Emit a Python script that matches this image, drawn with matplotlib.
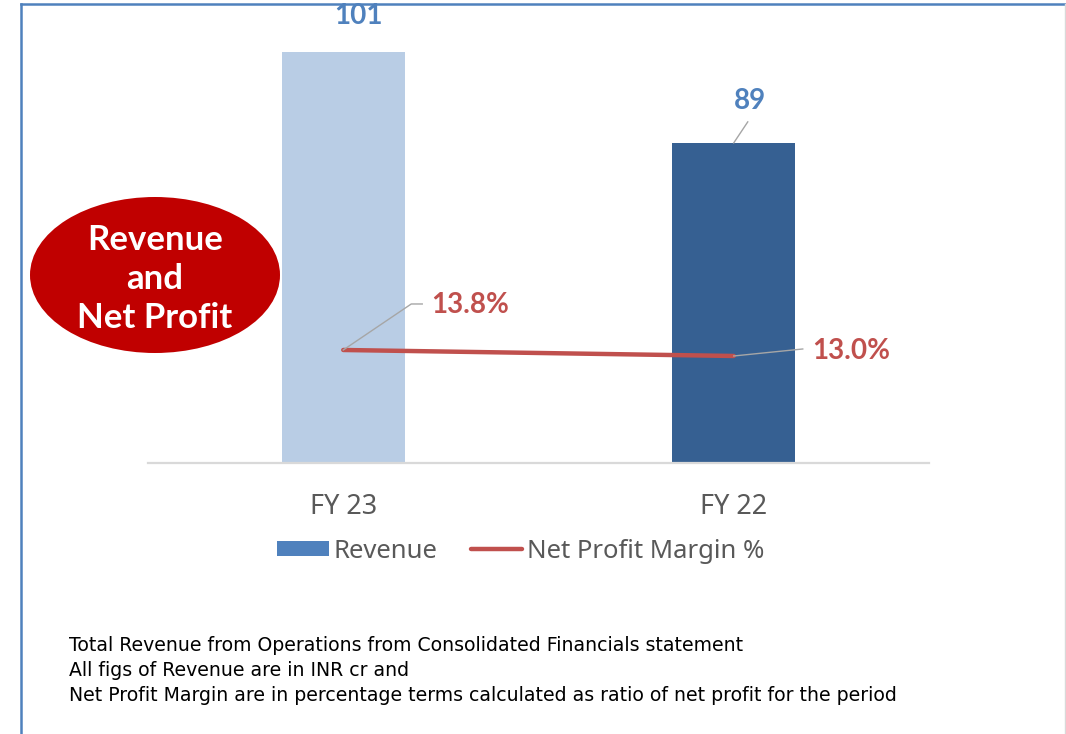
import matplotlib
matplotlib.use("Agg")
import matplotlib.pyplot as plt
from matplotlib.patches import Ellipse, Patch
from matplotlib.lines import Line2D
from matplotlib.transforms import ScaledTranslation

# data
years = ["FY 23", "FY 22"]
revenue = [101, 89]
margin = [13.8, 13.0]
margin_labels = ["13.8%", "13.0%"]
footnotes = [
    "Total Revenue from Operations from Consolidated Financials statement",
    "All figs of Revenue are in INR cr and",
    "Net Profit Margin are in percentage terms calculated as ratio of net profit for the period",
]

barColors = ["#B9CDE5", "#366092"]
legendBlue = "#4F81BD"
lineRed = "#C0504D"
labelGrey = "#595959"
leaderGrey = "#A6A6A6"
boldFont = ["Lato"]

plt.rcParams["font.family"] = ["Noto Sans", "DejaVu Sans"]

W, H = 1066, 734
fig = plt.figure(figsize=(W / 100, H / 100), dpi=100)


def fx(px):
    return px / W


def fy(py):
    return 1 - py / H


ax = fig.add_axes([fx(148), fy(463), fx(929) - fx(148), fy(20) - fy(463)])
ax2 = ax.twinx()

x = list(range(len(years)))
ax.bar(x, revenue, width=0.315, color=barColors, zorder=2)
ax.set_xlim(-0.5, 1.5)
ax.set_ylim(46.8, 105.2)
ax2.set_ylim(-1.27, 57.8)

ax2.plot(x, margin, color=lineRed, linewidth=3.2, solid_capstyle="round", zorder=3)

for a in (ax, ax2):
    for s in a.spines.values():
        s.set_visible(False)
    a.set_yticks([])
ax.spines["bottom"].set_visible(True)
ax.spines["bottom"].set_color("#D9D9D9")
ax.spines["bottom"].set_linewidth(1.6)
ax.set_xticks(x)
ax.set_xticklabels(years, fontsize=19.5, color=labelGrey)
ax.tick_params(axis="x", length=0, pad=21.5)
ax2.tick_params(axis="x", length=0)


def leader(axis, xd, yd, xs, ys):
    # polyline given in pixels relative to a data point
    tr = fig.dpi_scale_trans + ScaledTranslation(xd, yd, axis.transData)
    axis.add_line(Line2D([v / 100 for v in xs], [v / 100 for v in ys],
                         transform=tr, color=leaderGrey, linewidth=1.0,
                         zorder=4, clip_on=False))


def label(axis, xd, yd, dx, dy, text, color):
    tr = fig.dpi_scale_trans + ScaledTranslation(xd, yd, axis.transData)
    axis.text(dx / 100, dy / 100, text, transform=tr, ha="center", va="center",
              fontsize=20, fontweight="bold", family=boldFont, color=color,
              zorder=5, clip_on=False)


# revenue labels
label(ax, 0, revenue[0], 15, 36, "101", legendBlue)
leader(ax, 1, revenue[1], [0, 14], [0, 21])
label(ax, 1, revenue[1], 16, 42, "89", legendBlue)

# margin labels
leader(ax2, 0, margin[0], [0, 68, 79], [0, 46, 46])
label(ax2, 0, margin[0], 127, 45, margin_labels[0], lineRed)
leader(ax2, 1, margin[1], [0, 69], [0, 7])
label(ax2, 1, margin[1], 117, 5, margin_labels[1], lineRed)

# legend
handles = [Patch(facecolor=legendBlue, edgecolor="none"),
           Line2D([], [], color=lineRed, linewidth=3.2, solid_capstyle="round")]
fig.legend(handles, ["Revenue", "Net Profit Margin %"],
           loc="center", bbox_to_anchor=(fx(521), fy(551)), ncol=2,
           frameon=False, fontsize=18.5, labelcolor=labelGrey,
           handlelength=2.0, handleheight=0.55, handletextpad=0.2,
           columnspacing=1.3, borderpad=0)

# red badge
fig.patches.append(Ellipse((fx(155), fy(275)), fx(250), 156 / H,
                           transform=fig.transFigure, facecolor="#C00000",
                           edgecolor="none", zorder=6))
fig.text(fx(155), fy(279), "Revenue\nand\nNet Profit", ha="center", va="center",
         multialignment="center", color="white", fontsize=25, fontweight="bold",
         family=boldFont, linespacing=1.25, zorder=7)

# footnotes
for i, line in enumerate(footnotes):
    fig.text(fx(69), fy(651 + 25 * i), line, ha="left", va="baseline",
             fontsize=13.6, family="DejaVu Sans", color="black")

# frame lines
fig.add_artist(Line2D([fx(21), fx(21)], [fy(4), 0], transform=fig.transFigure,
                      color=legendBlue, linewidth=1.8))
fig.add_artist(Line2D([fx(21), 1], [fy(4), fy(4)], transform=fig.transFigure,
                      color=legendBlue, linewidth=1.8))
fig.add_artist(Line2D([fx(1065), fx(1065)], [fy(4), 0], transform=fig.transFigure,
                      color="#D9D9D9", linewidth=1.0))

fig.savefig("out.png", dpi=100)
